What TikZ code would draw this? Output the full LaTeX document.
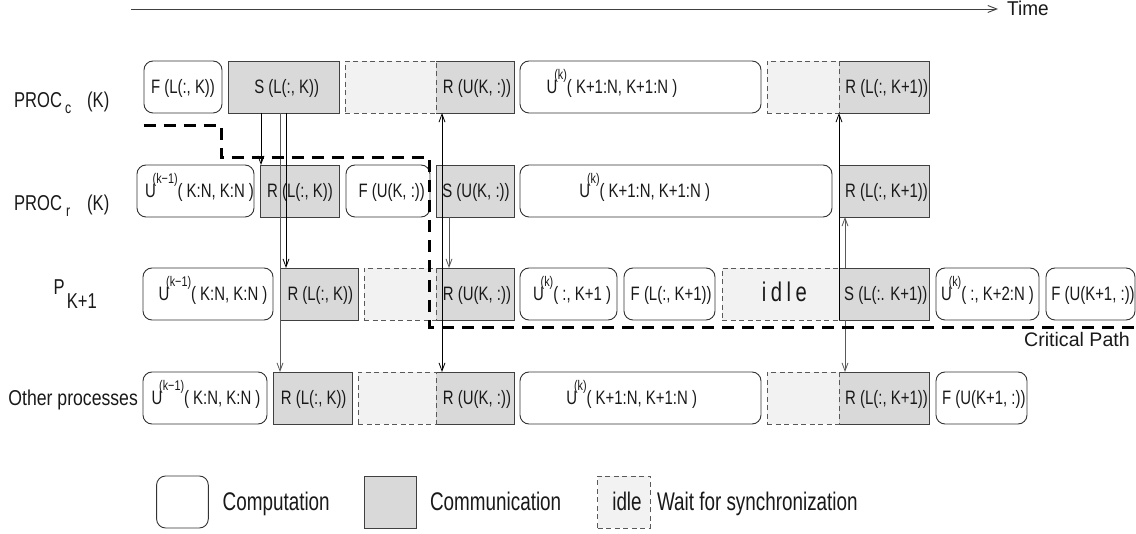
\documentclass[tikz,border=0pt]{standalone}
\usepackage{fontspec}
\setmainfont{Liberation Sans}
\usepackage{graphicx}
\usetikzlibrary{arrows.meta}
\definecolor{commgray}{HTML}{D9D9D9}
\definecolor{waitgray}{HTML}{F2F2F2}
\newcommand\cx[2][0.77]{\scalebox{#1}[1]{#2}}
\newcommand\Usup[1]{U\kern-4pt\raisebox{14pt}{\fontsize{14}{14}\selectfont #1}}
\newcommand\bx[5]{\node[#1, minimum width={#4-#3}] (#2) at ({(#3+#4)/2},#5) {};}
\newcommand\bxL[4]{\node[commfill, minimum width={#3-#2}] (#1) at ({(#2+#3)/2},#4) {};
  \draw[edge] (#1.north west) -- (#1.north east) -- (#1.south east) -- (#1.south west);}
\newcommand\tx[4]{\node[txt] (#1) at (#2,#3) {\cx{#4}};}
\begin{document}
\begin{tikzpicture}[x=1pt,y=-1pt,
  base/.style={inner sep=0pt, outer sep=0pt, minimum height=52pt, line width=0.9pt},
  comp/.style={base, draw=black!80, fill=white, rounded corners=9pt},
  comm/.style={base, draw=black!75, fill=commgray},
  commfill/.style={base, draw=none, fill=commgray},
  edge/.style={draw=black!75, line width=0.9pt},
  wait/.style={base, draw=black!65, fill=waitgray, dash pattern=on 5pt off 3.5pt, line width=0.8pt},
  txt/.style={inner sep=0pt, anchor=base, font=\fontsize{19.4}{20}\selectfont, text=black!90},
  lab/.style={inner sep=0pt, anchor=base west, font=\fontsize{21.5}{22}\selectfont, text=black!90},
  labsub/.style={lab, font=\fontsize{16}{16}\selectfont},
  leg/.style={inner sep=0pt, anchor=base west, font=\fontsize{25.5}{26}\selectfont, text=black!90},
  arrK/.style={draw=black, line width=0.8pt, -{Straight Barb[length=8pt,width=6pt]}},
  arrG/.style={arrK, draw=black!65},
  arrK2/.style={arrK, {Straight Barb[length=8pt,width=6pt]}-{Straight Barb[length=8pt,width=6pt]}},
  crit/.style={draw=black, line width=3pt, dash pattern=on 12pt off 8pt},
  axis/.style={draw=black!75, line width=0.9pt, -{Straight Barb[length=9pt,width=7pt]}},
]
\fill[white] (0,0) rectangle (1136,534);
\useasboundingbox (0,0) rectangle (1136,534);

% time axis
\node[inner sep=0pt, anchor=base west, font=\fontsize{20}{20}\selectfont, text=black!90] (time) at (1007,16) {\cx[0.95]{Time}};
\coordinate (t0) at (131,9);
\draw[axis, shorten >=9pt] (t0) -- (t0 -| time.west);

% row labels
\node[lab] (p1) at (14,107.3) {\cx{PROC}};
\node[labsub] (p1s) at (65,113.3) {\cx{c}};
\node[lab] (p1k) at (87,107.3) {\cx{(K)}};
\node[lab] (p2) at (14,210.7) {\cx{PROC}};
\node[labsub] (p2s) at (66,216.7) {\cx{r}};
\node[lab] (p2k) at (87,210.7) {\cx{(K)}};
\node[lab] (p3) at (53.3,295) {\cx{P}};
\node[lab] (p3s) at (66.7,308.5) {\cx{K+1}};
\node[lab] (p4) at (8.3,405.5) {\cx[0.82]{Other processes}};

% row 1
\bx{comp}{r1f}{144}{222}{87}
\bx{comm}{r1s}{228}{339}{87}
\bxL{r1u}{436}{514}{87}
\bx{wait}{r1w1}{345}{436}{87}
\bx{comp}{r1c}{520}{761}{87}
\bxL{r1l}{839}{929}{87}
\bx{wait}{r1w2}{767}{839}{87}
\tx{r1f-t}{183}{93.7}{F (L(:, K))}
\tx{r1s-t}{286.7}{93.7}{S (L(:, K))}
\tx{r1u-t}{477}{93.7}{R (U(K, :))}
\tx{r1c-t}{612}{93.7}{\Usup{(k)}( K+1:N, K+1:N )}
\tx{r1l-t}{886.7}{93.7}{R (L(:, K+1))}

% row 2
\bx{comp}{r2c}{137}{254}{191}
\bx{comm}{r2r}{260}{339}{191}
\bx{comp}{r2f}{346}{430}{191}
\bx{comm}{r2s}{436}{514}{191}
\bx{comp}{r2u}{520}{832}{191}
\bx{comm}{r2l}{839}{929}{191}
\tx{r2c-t}{199.5}{197.7}{\Usup{(k−1)}( K:N, K:N )}
\tx{r2r-t}{300}{197.7}{R (L(:, K))}
\tx{r2f-t}{391.7}{197.7}{F (U(K, :))}
\tx{r2s-t}{476}{197.7}{S (U(K, :))}
\tx{r2u-t}{644.7}{197.7}{\Usup{(k)}( K+1:N, K+1:N )}
\tx{r2l-t}{886.5}{197.7}{R (L(:, K+1))}

% row 3
\bx{comp}{r3c}{143}{273}{294}
\bx{comm}{r3r}{280}{358}{294}
\bxL{r3u}{436}{514}{294}
\bx{wait}{r3w}{364}{436}{294}
\bx{comp}{r3k}{520}{617}{294}
\bx{comp}{r3f}{624}{715}{294}
\bxL{r3s}{839}{929}{294}
\bx{wait}{r3i}{722}{839}{294}
\bx{comp}{r3k2}{936}{1039}{294}
\bx{comp}{r3g}{1046}{1135}{294}
\tx{r3c-t}{213}{300.7}{\Usup{(k−1)}( K:N, K:N )}
\tx{r3r-t}{320.3}{300.7}{R (L(:, K))}
\tx{r3u-t}{477}{300.7}{R (U(K, :))}
\tx{r3k-t}{572}{300.7}{\Usup{(k)}( :, K+1 )}
\tx{r3f-t}{671.2}{300.7}{F (L(:, K+1))}
\node[txt] (r3i-t) at (784.5,301.5) {\scalebox{0.75}[1]{\fontsize{27}{27}\selectfont i\kern6pt d\kern6pt l\kern6pt e}};
\tx{r3s-t}{885.8}{300.7}{S (L(:. K+1))}
\tx{r3k2-t}{987.5}{300.7}{\Usup{(k)}( :, K+2:N )}
\tx{r3g-t}{1093}{300.7}{F (U(K+1, :))}

% row 4
\bx{comp}{r4c}{143}{267}{398}
\bx{comm}{r4r}{273}{352}{398}
\bxL{r4u}{436}{514}{398}
\bx{wait}{r4w1}{358}{436}{398}
\bx{comp}{r4k}{520}{761}{398}
\bxL{r4l}{839}{929}{398}
\bx{wait}{r4w2}{767}{839}{398}
\bx{comp}{r4g}{936}{1027}{398}
\tx{r4c-t}{206}{404.7}{\Usup{(k−1)}( K:N, K:N )}
\tx{r4r-t}{313.7}{404.7}{R (L(:, K))}
\tx{r4u-t}{477}{404.7}{R (U(K, :))}
\tx{r4k-t}{631.7}{404.7}{\Usup{(k)}( K+1:N, K+1:N )}
\tx{r4l-t}{886.5}{404.7}{R (L(:, K+1))}
\tx{r4g-t}{983.8}{404.7}{F (U(K+1, :))}

% legend
\bx{comp}{lc}{156.6}{208.3}{502}
\bx{comm}{lm}{364}{416.5}{502}
\bx{wait}{li}{597.5}{650}{502}
\node[leg] (lc-t) at (222.5,510.8) {\cx[0.74]{Computation}};
\node[leg] (lm-t) at (429.9,510.8) {\cx[0.74]{Communication}};
\node[leg, anchor=base] (li-t) at (627,510.8) {\cx[0.74]{idle}};
\node[leg] (lw-t) at (656.8,510.8) {\cx[0.74]{Wait for synchronization}};

% message arrows
\draw[arrK] (r1s.south -| r2r.west) ++(1,0) -- ([xshift=1pt]r2r.north west);
\draw[arrK] ([xshift=6pt]r3r.north west |- r1s.south) -- ([xshift=6pt]r3r.north west);
\draw[arrG] ([xshift=7pt]r4r.north west |- r1s.south) -- ([xshift=7pt]r4r.north west);
\draw[arrK2] ([xshift=6pt]r1u.south west) -- ([xshift=6pt]r4u.north west);
\draw[arrG] ([xshift=13pt]r2s.south west) -- ([xshift=13pt]r3u.north west);
\draw[arrK] (r3s.south west) -- (r1l.south west);
\draw[arrG] ([xshift=6pt]r3s.north west) -- ([xshift=6pt]r2l.south west);
\draw[arrG] ([xshift=6pt]r3s.south west) -- ([xshift=6pt]r4l.north west);

% critical path
\coordinate (cp0) at (143.7,126);
\coordinate (cp1) at (221.7,158);
\coordinate (cp2) at (429.3,327.3);
\coordinate (cp3) at (1136,327.3);
\draw[crit] (cp0) -| (cp1) -| (cp2) -- (cp3);
\node[inner sep=0pt, anchor=base east, font=\fontsize{19.6}{20}\selectfont, text=black!90] (cpt) at (1130,347) {Critical Path};
\end{tikzpicture}
\end{document}
